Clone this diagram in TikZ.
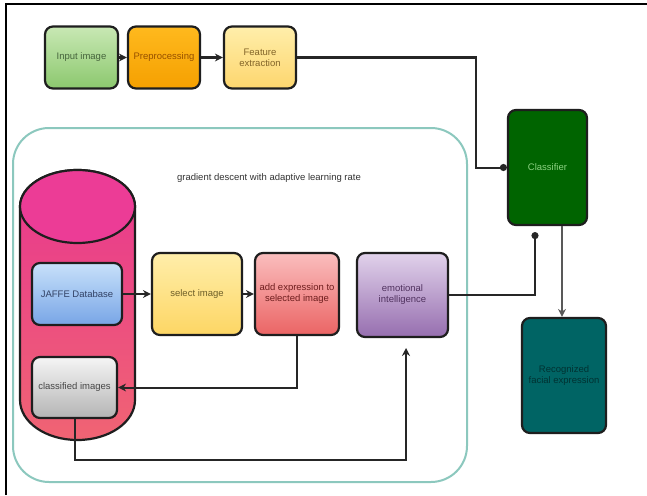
\documentclass[tikz,border=0pt]{standalone}
\usepackage{fontspec}
\setmainfont{Liberation Sans}
\usetikzlibrary{arrows.meta}
\definecolor{boxline}{HTML}{1E1E1E}
\tikzset{
  box/.style={draw=boxline, line width=2.2pt, rounded corners=8pt, align=center,
    font=\fontsize{9.5}{11}\selectfont, inner sep=2pt},
  conn/.style={draw=black!85, line width=2pt, -{Stealth[length=8pt,width=8pt]}},
  dotconn/.style={draw=black!85, line width=2pt, -{Circle[length=7pt]}}
}
\begin{document}
\begin{tikzpicture}[x=1pt,y=-1pt]
\useasboundingbox (0,0) rectangle (647,495);
\fill[white] (0,0) rectangle (647,495);
% frame
\draw[line width=1.8pt] (6,495) -- (6,4) -- (647,4);
% container
\draw[color={rgb,255:red,140;green,200;blue,190}, line width=2pt, rounded corners=36pt]
  (13,128) rectangle (467,482);
\node[font=\fontsize{9.5}{11}\selectfont, text=black!80] (title) at (269,178) {gradient descent with adaptive learning rate};
% cylinder
\path[draw=boxline, line width=2.2pt, top color={rgb,255:red,232;green,54;blue,143}, bottom color={rgb,255:red,240;green,100;blue,115}]
  (20,206.5) -- (20,400) arc[start angle=180, end angle=360, x radius=57.5pt, y radius=40pt]
  -- (135,206.5) arc[start angle=0, end angle=180, x radius=57.5pt, y radius=36.5pt] -- cycle;
\draw[draw=boxline, line width=2.2pt, fill={rgb,255:red,236;green,60;blue,150}] (77.5,206.5) ellipse[x radius=57.5pt, y radius=36.5pt];
% top row
\node[box, minimum width=73pt, minimum height=62pt, top color={rgb,255:red,200;green,232;blue,180}, bottom color={rgb,255:red,140;green,200;blue,110}, text={rgb,255:red,70;green,100;blue,60}] (inp) at (81.5,57.5) {Input image};
\node[box, minimum width=72pt, minimum height=62pt, top color={rgb,255:red,255;green,185;blue,30}, bottom color={rgb,255:red,245;green,160;blue,0}, text={rgb,255:red,150;green,80;blue,0}] (pre) at (164,57.5) {Preprocessing};
\node[box, minimum width=72pt, minimum height=62pt, top color={rgb,255:red,255;green,238;blue,170}, bottom color={rgb,255:red,253;green,214;blue,110}, text={rgb,255:red,130;green,100;blue,40}] (feat) at (260,57.5) {Feature\\extraction};
% classifier and result
\node[box, minimum width=79pt, minimum height=115pt, fill={rgb,255:red,0;green,100;blue,0}, text={rgb,255:red,140;green,210;blue,130}] (cls) at (547.5,167.5) {Classifier};
\node[box, minimum width=84pt, minimum height=115pt, fill={rgb,255:red,0;green,100;blue,100}, text={rgb,255:red,0;green,50;blue,50}] (rec) at (564,375.5) {Recognized\\facial expression};
% inner row
\node[box, minimum width=90pt, minimum height=62pt, top color={rgb,255:red,200;green,225;blue,250}, bottom color={rgb,255:red,120;green,165;blue,230}, text={rgb,255:red,50;green,65;blue,100}] (jaffe) at (77,294) {JAFFE Database};
\node[box, minimum width=90pt, minimum height=82pt, top color={rgb,255:red,255;green,238;blue,170}, bottom color={rgb,255:red,253;green,214;blue,100}, text={rgb,255:red,110;green,95;blue,40}] (sel) at (197,294) {select image};
\node[box, minimum width=84pt, minimum height=82pt, top color={rgb,255:red,250;green,190;blue,190}, bottom color={rgb,255:red,235;green,100;blue,100}, text={rgb,255:red,110;green,30;blue,30}] (add) at (297,294) {add expression to\\selected image};
\node[box, minimum width=91pt, minimum height=84pt, top color={rgb,255:red,225;green,210;blue,235}, bottom color={rgb,255:red,150;green,110;blue,175}, text={rgb,255:red,80;green,50;blue,95}] (emo) at (402.5,295) {emotional\\intelligence};
\node[box, minimum width=85pt, minimum height=61pt, top color={rgb,255:red,245;green,245;blue,245}, bottom color={rgb,255:red,180;green,180;blue,180}, text={rgb,255:red,70;green,70;blue,70}] (clsimg) at (74.5,387.5) {classified images};
% connectors
\draw[conn] (inp) -- (pre);
\draw[conn] (pre) -- (feat);
\coordinate (k1) at (476,167.5);
\draw[dotconn] (feat.east) -| (k1) -- (cls.west);
\draw[dotconn] (emo.east) -| ([xshift=-12.5pt,yshift=-6pt]cls.south);
\draw[conn, draw=black!65] ([xshift=14.5pt]cls.south) -- ([xshift=14.5pt]cls.south |- rec.north);
\draw[conn] (jaffe) -- (sel);
\draw[conn] (sel) -- (add);
\draw[conn] (add.south) |- (clsimg.east);
\coordinate (k3) at (406,348);
\draw[conn] (clsimg.south) -- (clsimg.south |- 0,460) -| (k3);
\end{tikzpicture}
\end{document}
